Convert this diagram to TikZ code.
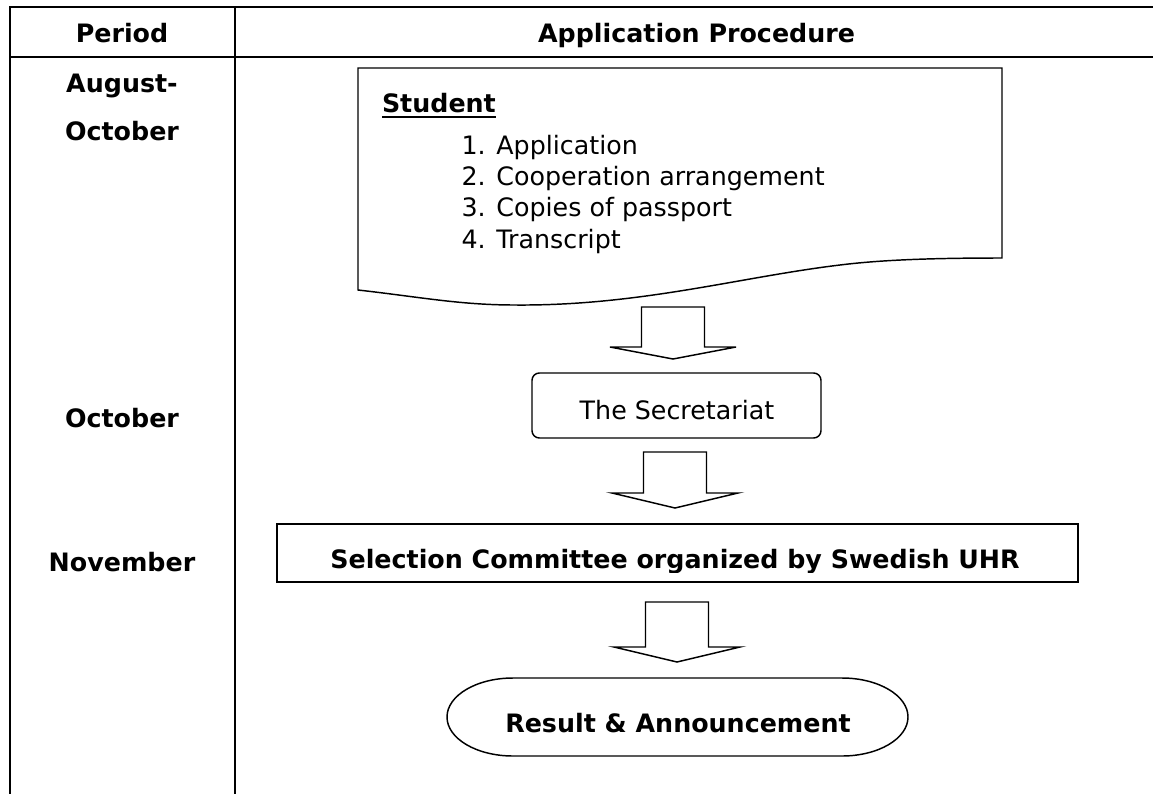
\documentclass[tikz,border=0pt]{standalone}
\usepackage{fontspec}
\setmainfont{DejaVu Sans}
\tikzset{
  tbl/.style={line width=1.6pt, line cap=rect},
  shp/.style={line width=1.1pt, line join=miter},
  txt/.style={inner sep=0pt, outer sep=0pt, font=\fontsize{19pt}{22pt}\selectfont},
  btxt/.style={txt, font=\fontsize{19pt}{22pt}\selectfont\bfseries},
  ghost/.style={inner sep=0pt, outer sep=0pt, draw=none},
}
\newcommand\bkarrow[4]{%
  \draw[shp] (#1-31.5,#2) -- (#1+31.5,#2) -- (#1+31.5,#3) -- (#1+63,#3) -- (#1,#4) -- (#1-63,#3) -- (#1-31.5,#3) -- cycle;}
\begin{document}
\begin{tikzpicture}[x=0.75pt,y=-0.75pt]
\useasboundingbox (0,0) rectangle (1153,793);
% table
\draw[tbl] (10,7) -- (1153,7);
\draw[tbl] (10,57) -- (1153,57);
\draw[tbl] (10,7) -- (10,794);
\draw[tbl] (235,7) -- (235,794);
% header
\node[btxt, anchor=base] (hper) at (122,42) {Period};
\node[btxt, anchor=base east] (hproc) at (855,42) {Application Procedure};
% period labels
\node[btxt, anchor=base] (p1) at (122,92) {August-};
\node[btxt, anchor=base] (p2) at (122,140) {October};
\node[btxt, anchor=base] (p3) at (122,427) {October};
\node[btxt, anchor=base] (p4) at (122,571) {November};
% student document shape
\node[ghost, minimum width=642*0.75pt, minimum height=238*0.75pt] (stu) at (681,187) {};
\draw[shp] (358,290) -- (358,68) -- (1002,68) -- (1002,258)
  .. controls (930,258) and (880,260) .. (840,265)
  .. controls (740,277) and (640,306) .. (515,305)
  .. controls (460,305) and (420,297) .. (358,290) -- cycle;
\node[btxt, anchor=base west] (sname) at (382,112) {Student};
\draw[line width=1.5pt] ([yshift=-3.8pt]sname.base west) -- ([yshift=-3.8pt]sname.base east);
\node[txt, anchor=base west] (i1) at (461.5,154) {1. Application};
\node[txt, anchor=base west] (i2) at (461.5,185) {2. Cooperation arrangement};
\node[txt, anchor=base west] (i3) at (461.5,216) {3. Copies of passport};
\node[txt, anchor=base west] (i4) at (461.5,248) {4. Transcript};
% secretariat
\node[ghost, draw, shp, rounded corners=5.5pt, minimum width=289*0.75pt, minimum height=65*0.75pt] (sec) at (676.5,405.5) {};
\node[txt, anchor=base] (sect) at (677,419) {The Secretariat};
% selection committee
\node[ghost, draw, shp, minimum width=801*0.75pt, minimum height=58*0.75pt] (sel) at (677.5,553) {};
\begin{scope}
\clip (278,525) rectangle (1077,572);
\node[btxt, anchor=base] (selt) at (675,568) {Selection Committee organized by Swedish UHR};
\end{scope}
% result
\node[ghost, minimum width=461*0.75pt, minimum height=78*0.75pt] (res) at (677.5,717) {};
\draw[shp] (513,678) -- (842,678)
  .. controls (878.5,678) and (908,695.5) .. (908,717)
  .. controls (908,738.5) and (878.5,756) .. (842,756)
  -- (513,756)
  .. controls (476.5,756) and (447,738.5) .. (447,717)
  .. controls (447,695.5) and (476.5,678) .. (513,678) -- cycle;
\node[btxt, anchor=base] (rest) at (678,732) {Result \& Announcement};
% block arrows (stu -> sec -> sel -> res)
\bkarrow{673}{307}{347}{359}
\bkarrow{675}{452}{493}{508}
\bkarrow{677}{602}{647}{662}
\end{tikzpicture}
\end{document}
